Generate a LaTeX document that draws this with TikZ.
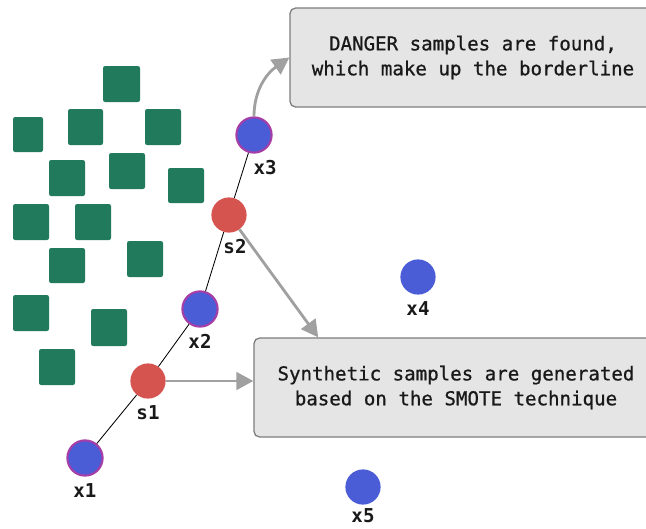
\documentclass[tikz,border=0pt]{standalone}
\usepackage{fontspec}
\setmonofont{DejaVu Sans Mono}
\newfontfamily\notefont[FakeBold=0.8]{DejaVu Sans Mono}
\usetikzlibrary{arrows.meta}
\definecolor{sqgreen}{RGB}{34,122,92}
\definecolor{ptblue}{RGB}{74,92,214}
\definecolor{ptpurple}{RGB}{166,62,168}
\definecolor{ptred}{RGB}{214,84,80}
\definecolor{boxfill}{RGB}{229,229,229}
\definecolor{boxline}{RGB}{125,125,125}
\definecolor{arrgray}{RGB}{160,160,160}
\begin{document}
\begin{tikzpicture}[x=0.025cm,y=-0.025cm,every node/.style={font=\notefont\fontsize{13.6}{17.7}\selectfont,text=black!90},
  pt/.style={circle,inner sep=0pt,minimum size=0.88cm},
  lbl/.style={font=\ttfamily\bfseries\fontsize{13.6}{15}\selectfont,inner sep=1pt,label distance=3.5pt},
  note/.style={rectangle,rounded corners=4pt,fill=boxfill,draw=boxline,line width=0.9pt,align=center,minimum height=2.475cm},
  arr/.style={arrgray,line width=2pt,-{Triangle[length=12pt,width=12.5pt]}}]
\useasboundingbox (0,0) rectangle (646,528);
% majority class: green squares
\foreach \xa/\ya/\xb/\yb in {103/66/140/102, 13/117/43/152, 68/109/103/145, 145/109/181/145,
  49/160/85/196, 109/153/145/189, 168/168/204/203, 13/204/49/240, 75/204/111/240,
  49/248/85/283, 127/241/163/277, 13/295/49/331, 91/309/127/346, 39/349/75/385}
  \fill[sqgreen,rounded corners=1.5pt] (\xa,\ya) rectangle (\xb,\yb);
% minority samples and synthetic samples
\node[pt,fill=ptblue,draw=ptpurple,line width=1.5pt,label={[lbl]below:x1}] (x1) at (85,458) {};
\node[pt,fill=ptred,label={[lbl]below:s1}] (s1) at (148,381) {};
\node[pt,fill=ptblue,draw=ptpurple,line width=1.5pt,label={[lbl]below:x2}] (x2) at (200,309) {};
\node[pt,fill=ptred,label={[lbl,xshift=0.15cm]below:s2}] (s2) at (229,215) {};
\node[pt,fill=ptblue,draw=ptpurple,line width=1.5pt,label={[lbl,xshift=0.28cm]below:x3}] (x3) at (254,135) {};
\node[pt,fill=ptblue,label={[lbl]below:x4}] (x4) at (418,277) {};
\node[pt,fill=ptblue,label={[lbl,label distance=1.5pt]below:x5}] (x5) at (363,487) {};
\draw[line width=0.6pt] (x1) -- (s1) -- (x2) -- (s2) -- (x3);
% explanation boxes
\node[note,minimum width=9.15cm] (danger) at (473,57.5) {DANGER samples are found,\\which make up the borderline};
\node[note,minimum width=10.1cm] (smote) at (456,387.5) {Synthetic samples are generated\\based on the SMOTE technique};
% arrows
\draw[arr] (x3.north) to[out=90,in=215] (danger.west);
\draw[arr] (s2) -- (smote.160);
\draw[arr] (s1.east) -- (s1.east -| smote.west);
\end{tikzpicture}
\end{document}
